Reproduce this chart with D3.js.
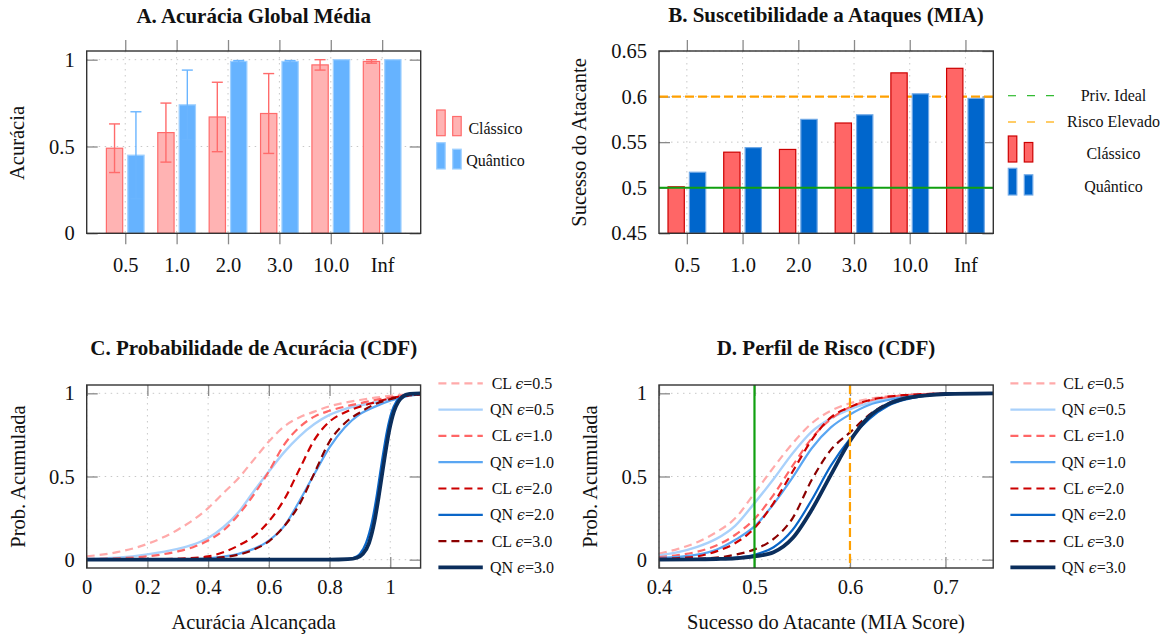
<!DOCTYPE html>
<html>
<head>
<meta charset="utf-8">
<script src="https://cdn.jsdelivr.net/npm/d3@7"></script>
<style>
body { margin: 0; background: #fff; }
text { font-family: "Liberation Serif", "DejaVu Serif", serif; fill: #111; }
</style>
</head>
<body>
<svg id="fig" width="1168" height="636"></svg>
<script>
//Categories
var epsLabels = ["0.5", "1.0", "2.0", "3.0", "10.0", "Inf"];

//A. accuracy
var accClassico = [0.49, 0.58, 0.67, 0.69, 0.97, 0.99];
var accClassicoErr = [0.14, 0.17, 0.20, 0.23, 0.03, 0.01];
var accQuantico = [0.45, 0.74, 0.99, 0.99, 1.0, 1.0];
var accQuanticoErr = [0.25, 0.20, 0.005, 0.005, 0, 0];

//B. MIA
var miaClassico = [0.501, 0.539, 0.542, 0.571, 0.626, 0.631];
var miaQuantico = [0.517, 0.544, 0.575, 0.580, 0.603, 0.598];
var privIdeal = 0.5;
var riscoElevado = 0.6;

//Ticks
var ticksAy = [0, 0.5, 1];
var ticksBy = [0.45, 0.5, 0.55, 0.6, 0.65];
var ticksCx = [0, 0.2, 0.4, 0.6, 0.8, 1];
var ticksCy = [0, 0.5, 1];
var ticksDx = [0.4, 0.5, 0.6, 0.7];

//C. CDF accuracy
var cdfAccCL05 = [[0,0.02],[0.1,0.045],[0.2,0.095],[0.3,0.18],[0.4,0.31],[0.45,0.40],[0.5,0.49],[0.55,0.60],[0.6,0.71],[0.65,0.80],[0.7,0.855],[0.75,0.89],[0.8,0.922],[0.85,0.943],[0.9,0.96],[0.95,0.974],[1.0,0.985],[1.05,0.992],[1.1,0.996]];
var cdfAccQN05 = [[0,0.004],[0.1,0.012],[0.2,0.032],[0.3,0.065],[0.35,0.09],[0.4,0.13],[0.45,0.195],[0.5,0.285],[0.55,0.41],[0.6,0.53],[0.65,0.645],[0.7,0.74],[0.75,0.815],[0.8,0.87],[0.85,0.905],[0.9,0.928],[0.95,0.945],[1.0,0.965],[1.05,0.985],[1.1,0.995]];
var cdfAccCL10 = [[0,0.004],[0.1,0.008],[0.2,0.02],[0.3,0.05],[0.35,0.075],[0.4,0.115],[0.45,0.175],[0.5,0.27],[0.55,0.39],[0.6,0.53],[0.65,0.69],[0.7,0.795],[0.75,0.86],[0.8,0.895],[0.85,0.92],[0.9,0.94],[0.95,0.96],[1.0,0.975],[1.05,0.988],[1.1,0.995]];
var cdfAccQN10 = [[0,0],[0.3,0.002],[0.4,0.008],[0.45,0.018],[0.5,0.035],[0.55,0.065],[0.6,0.115],[0.65,0.2],[0.7,0.35],[0.75,0.515],[0.8,0.675],[0.85,0.795],[0.9,0.875],[0.95,0.92],[1.0,0.955],[1.05,0.98],[1.1,0.993]];
var cdfAccCL20 = [[0,0],[0.2,0.002],[0.3,0.006],[0.4,0.02],[0.45,0.045],[0.5,0.085],[0.55,0.14],[0.6,0.23],[0.65,0.36],[0.7,0.54],[0.75,0.72],[0.8,0.83],[0.85,0.885],[0.9,0.92],[0.95,0.946],[1.0,0.97],[1.05,0.985],[1.1,0.993]];
var cdfAccQN20 = [[0,0],[0.8,0],[0.85,0.003],[0.88,0.012],[0.9,0.035],[0.92,0.1],[0.94,0.23],[0.955,0.38],[0.965,0.5],[0.975,0.62],[0.99,0.78],[1.005,0.89],[1.02,0.95],[1.04,0.985],[1.06,0.997],[1.1,1.0]];
var cdfAccCL30 = [[0,0],[0.3,0.002],[0.4,0.008],[0.45,0.015],[0.5,0.03],[0.55,0.06],[0.6,0.11],[0.65,0.2],[0.7,0.33],[0.75,0.52],[0.8,0.71],[0.85,0.82],[0.9,0.885],[0.95,0.935],[1.0,0.965],[1.05,0.985],[1.1,0.993]];
var cdfAccQN30 = [[0,0],[0.8,0],[0.86,0.003],[0.89,0.012],[0.91,0.035],[0.93,0.1],[0.948,0.23],[0.962,0.38],[0.972,0.5],[0.982,0.62],[0.997,0.78],[1.012,0.89],[1.027,0.95],[1.045,0.985],[1.065,0.997],[1.1,1.0]];

//D. CDF MIA score
var cdfMiaCL05 = [[0.4,0.036],[0.42,0.065],[0.44,0.105],[0.46,0.165],[0.48,0.25],[0.5,0.40],[0.52,0.555],[0.54,0.70],[0.56,0.82],[0.58,0.895],[0.6,0.94],[0.62,0.967],[0.64,0.982],[0.66,0.99],[0.68,0.996],[0.7,0.999],[0.75,1.0]];
var cdfMiaQN05 = [[0.4,0.026],[0.42,0.045],[0.44,0.077],[0.46,0.125],[0.48,0.205],[0.5,0.34],[0.52,0.485],[0.54,0.64],[0.56,0.77],[0.58,0.85],[0.6,0.904],[0.62,0.942],[0.64,0.97],[0.66,0.987],[0.68,0.995],[0.7,0.999],[0.75,1.0]];
var cdfMiaCL10 = [[0.4,0.016],[0.42,0.028],[0.44,0.048],[0.46,0.085],[0.48,0.15],[0.5,0.245],[0.52,0.39],[0.54,0.565],[0.56,0.73],[0.58,0.845],[0.6,0.918],[0.62,0.955],[0.64,0.978],[0.66,0.99],[0.68,0.996],[0.7,0.999],[0.75,1.0]];
var cdfMiaQN10 = [[0.4,0.01],[0.42,0.017],[0.44,0.03],[0.46,0.06],[0.48,0.12],[0.5,0.20],[0.52,0.335],[0.54,0.495],[0.56,0.67],[0.58,0.795],[0.6,0.873],[0.62,0.93],[0.64,0.96],[0.66,0.98],[0.68,0.99],[0.7,0.996],[0.75,1.0]];
var cdfMiaCL20 = [[0.4,0.006],[0.42,0.01],[0.44,0.02],[0.46,0.05],[0.48,0.1],[0.5,0.19],[0.52,0.34],[0.54,0.53],[0.56,0.72],[0.58,0.855],[0.6,0.918],[0.62,0.958],[0.64,0.98],[0.66,0.99],[0.68,0.996],[0.7,0.999],[0.75,1.0]];
var cdfMiaQN20 = [[0.4,0.002],[0.44,0.004],[0.46,0.007],[0.48,0.013],[0.5,0.03],[0.52,0.075],[0.54,0.18],[0.56,0.36],[0.58,0.565],[0.6,0.725],[0.62,0.845],[0.64,0.925],[0.66,0.965],[0.68,0.986],[0.7,0.995],[0.75,1.0]];
var cdfMiaCL30 = [[0.4,0.003],[0.44,0.006],[0.46,0.012],[0.48,0.03],[0.5,0.062],[0.52,0.125],[0.54,0.25],[0.56,0.48],[0.58,0.66],[0.6,0.765],[0.62,0.87],[0.64,0.94],[0.66,0.975],[0.68,0.99],[0.7,0.997],[0.75,1.0]];
var cdfMiaQN30 = [[0.4,0.0],[0.44,0.002],[0.46,0.004],[0.48,0.008],[0.5,0.02],[0.52,0.045],[0.54,0.13],[0.56,0.3],[0.58,0.51],[0.6,0.713],[0.62,0.86],[0.64,0.935],[0.66,0.972],[0.68,0.988],[0.7,0.996],[0.75,1.0]];

//Series names
var cdfPrefix = ["CL", "QN", "CL", "QN", "CL", "QN", "CL", "QN"];
var cdfEps = ["0.5", "0.5", "1.0", "1.0", "2.0", "2.0", "3.0", "3.0"];

//Styles
var cdfStyles = [
    { color: "#ffaaaa", width: 2.2, dash: "8,5" },
    { color: "#a9d1fb", width: 2.4, dash: null },
    { color: "#ff6666", width: 2.2, dash: "8,5" },
    { color: "#5aa6f2", width: 2.2, dash: null },
    { color: "#cc0000", width: 2.2, dash: "8,5" },
    { color: "#0a66c8", width: 2.2, dash: null },
    { color: "#8b0000", width: 2.2, dash: "8,5" },
    { color: "#0b2e5c", width: 3.8, dash: null }
];

var svg = d3.select("#fig");
var tickFont = "20.5px";
var labelFont = "20.5px";
var legendFont = "16px";

//Frame: grid, ticks, box, tick labels
function frame(box, x, y, xTicks, yTicks, xOutside, xFormat) {
    var g = svg.append("g");
    var grid = g.append("g")
                .attr("stroke", "#c8c8c8")
                .attr("stroke-width", 1)
                .attr("stroke-dasharray", "1.5,4.5");
    xTicks.forEach(function(t){
        grid.append("line").attr("x1", x(t)).attr("x2", x(t)).attr("y1", box.y0).attr("y2", box.y1);
    });
    yTicks.forEach(function(t){
        grid.append("line").attr("x1", box.x0).attr("x2", box.x1).attr("y1", y(t)).attr("y2", y(t));
    });

    //X-axis bottom
    var xb = g.append("g")
              .attr("transform", "translate(0," + box.y1 + ")")
              .call(d3.axisBottom(x).tickValues(xTicks).tickFormat(xFormat)
                      .tickSizeInner(xOutside ? 11 : -11).tickSizeOuter(0)
                      .tickPadding(xOutside ? 13 : 11));
    //X-axis top
    var xt = g.append("g")
              .attr("transform", "translate(0," + box.y0 + ")")
              .call(d3.axisTop(x).tickValues(xTicks).tickFormat("")
                      .tickSizeInner(xOutside ? 11 : -11).tickSizeOuter(0));
    //Y-axis left
    var yl = g.append("g")
              .attr("transform", "translate(" + box.x0 + ",0)")
              .call(d3.axisLeft(y).tickValues(yTicks).tickFormat(function(d){ return String(d); })
                      .tickSizeInner(-11).tickSizeOuter(0).tickPadding(12));
    //Y-axis right
    var yr = g.append("g")
              .attr("transform", "translate(" + box.x1 + ",0)")
              .call(d3.axisRight(y).tickValues(yTicks).tickFormat("")
                      .tickSizeInner(-11).tickSizeOuter(0));

    [xb, xt, yl, yr].forEach(function(a){
        a.select(".domain").remove();
        a.selectAll("line").attr("stroke", "#8a8a8a").attr("stroke-width", 1.3);
        a.selectAll("text")
         .style("font-size", tickFont)
         .style("font-family", "'Liberation Serif', serif")
         .attr("fill", "#111");
    });
    return g;
}

function drawBox(box) {
    svg.append("rect")
       .attr("x", box.x0).attr("y", box.y0)
       .attr("width", box.x1 - box.x0).attr("height", box.y1 - box.y0)
       .attr("fill", "none").attr("stroke", "#333").attr("stroke-width", 1.4);
}

function title(text, cx, y) {
    svg.append("text")
       .attr("x", cx).attr("y", y)
       .attr("text-anchor", "middle")
       .style("font-size", "21px")
       .style("font-weight", "bold")
       .text(text);
}

function yTitle(text, x, cy) {
    svg.append("text")
       .attr("transform", "translate(" + x + "," + cy + ") rotate(-90)")
       .attr("text-anchor", "middle")
       .style("font-size", labelFont)
       .text(text);
}

function xTitle(text, cx, y) {
    svg.append("text")
       .attr("x", cx).attr("y", y)
       .attr("text-anchor", "middle")
       .style("font-size", labelFont)
       .text(text);
}

//Bar legend icon (two bars)
function barIcon(x, yTop, yBottom, fill, stroke) {
    svg.append("rect").attr("x", x).attr("y", yTop)
       .attr("width", 8.5).attr("height", yBottom - yTop)
       .attr("fill", fill).attr("stroke", stroke).attr("stroke-width", 1.2);
    svg.append("rect").attr("x", x + 16).attr("y", yTop + 6.5)
       .attr("width", 8.5).attr("height", yBottom - yTop - 6.5)
       .attr("fill", fill).attr("stroke", stroke).attr("stroke-width", 1.2);
}

var barW = 16.3;
var barOff = 10.7;

//---------------- A ----------------
var boxA = { x0: 86.7, x1: 420.7, y0: 51, y1: 233.3 };
var xA = d3.scalePoint().domain(epsLabels).range([boxA.x0, boxA.x1]).padding(0.75);
var yA = d3.scaleLinear().domain([0, 1.05]).range([boxA.y1, boxA.y0]);
frame(boxA, xA, yA, epsLabels, ticksAy, true, function(d){ return d; });

var gA = svg.append("g");
gA.selectAll("rect.cl").data(accClassico).enter().append("rect")
  .attr("x", function(d, i){ return xA(epsLabels[i]) - barOff - barW / 2; })
  .attr("y", function(d){ return yA(d); })
  .attr("width", barW)
  .attr("height", function(d){ return yA(0) - yA(d); })
  .attr("fill", "#ffb3b3").attr("stroke", "#ff6b6b").attr("stroke-width", 1.2);
gA.selectAll("rect.qn").data(accQuantico).enter().append("rect")
  .attr("x", function(d, i){ return xA(epsLabels[i]) + barOff - barW / 2; })
  .attr("y", function(d){ return yA(d); })
  .attr("width", barW)
  .attr("height", function(d){ return yA(0) - yA(d); })
  .attr("fill", "#66b3ff").attr("stroke", "#9fd0ff").attr("stroke-width", 1.2);

//Error bars
function errBars(vals, errs, off, color) {
    vals.forEach(function(v, i){
        if (errs[i] <= 0) return;
        var cx = xA(epsLabels[i]) + off;
        var hi = Math.min(v + errs[i], 1.0);
        var lo = v - errs[i];
        var e = gA.append("g").attr("stroke", color).attr("stroke-width", 1.4);
        e.append("line").attr("x1", cx).attr("x2", cx).attr("y1", yA(hi)).attr("y2", yA(lo));
        e.append("line").attr("x1", cx - 5.5).attr("x2", cx + 5.5).attr("y1", yA(hi)).attr("y2", yA(hi));
        e.append("line").attr("x1", cx - 5.5).attr("x2", cx + 5.5).attr("y1", yA(lo)).attr("y2", yA(lo));
    });
}
errBars(accClassico, accClassicoErr, -barOff, "#ff6b6b");
errBars(accQuantico, accQuanticoErr, barOff, "#6ab5ff");
drawBox(boxA);

title("A. Acurácia Global Média", 253.7, 23);
yTitle("Acurácia", 24, 143);

barIcon(436.7, 110, 135.7, "#ffb3b3", "#ff6b6b");
barIcon(436.7, 142.7, 169, "#66b3ff", "#9fd0ff");
svg.append("text").attr("x", 495.5).attr("y", 133.5).attr("text-anchor", "middle")
   .style("font-size", legendFont).text("Clássico");
svg.append("text").attr("x", 495.5).attr("y", 165.5).attr("text-anchor", "middle")
   .style("font-size", legendFont).text("Quântico");

//---------------- B ----------------
var boxB = { x0: 659, x1: 993.3, y0: 51, y1: 233.3 };
var xB = d3.scalePoint().domain(epsLabels).range([boxB.x0, boxB.x1]).padding(0.5);
var yB = d3.scaleLinear().domain([0.45, 0.65]).range([boxB.y1, boxB.y0]);
frame(boxB, xB, yB, epsLabels, ticksBy, true, function(d){ return d; });

var gB = svg.append("g");
gB.append("line")
  .attr("x1", boxB.x0).attr("x2", boxB.x1).attr("y1", yB(riscoElevado)).attr("y2", yB(riscoElevado))
  .attr("stroke", "#ffa000").attr("stroke-width", 2.2).attr("stroke-dasharray", "9,4");
gB.selectAll("rect.cl").data(miaClassico).enter().append("rect")
  .attr("x", function(d, i){ return xB(epsLabels[i]) - barOff - barW / 2; })
  .attr("y", function(d){ return yB(d); })
  .attr("width", barW)
  .attr("height", function(d){ return yB(0.45) - yB(d); })
  .attr("fill", "#ff6666").attr("stroke", "#cc0000").attr("stroke-width", 1.2);
gB.selectAll("rect.qn").data(miaQuantico).enter().append("rect")
  .attr("x", function(d, i){ return xB(epsLabels[i]) + barOff - barW / 2; })
  .attr("y", function(d){ return yB(d); })
  .attr("width", barW)
  .attr("height", function(d){ return yB(0.45) - yB(d); })
  .attr("fill", "#0066cc").attr("stroke", "#6fa8e6").attr("stroke-width", 1.2);
gB.append("line")
  .attr("x1", boxB.x0).attr("x2", boxB.x1).attr("y1", yB(privIdeal)).attr("y2", yB(privIdeal))
  .attr("stroke", "#10a010").attr("stroke-width", 2.2);
drawBox(boxB);

title("B. Suscetibilidade a Ataques (MIA)", 826, 22);
yTitle("Sucesso do Atacante", 586, 142.5);

svg.append("line").attr("x1", 1008).attr("x2", 1062).attr("y1", 95.7).attr("y2", 95.7)
   .attr("stroke", "#33bb33").attr("stroke-width", 1.2).attr("stroke-dasharray", "8,11");
svg.append("line").attr("x1", 1008).attr("x2", 1062).attr("y1", 122).attr("y2", 122)
   .attr("stroke", "#ffcc66").attr("stroke-width", 2).attr("stroke-dasharray", "8,11");
barIcon(1008.3, 136, 162, "#ff6666", "#cc0000");
barIcon(1008.3, 168.3, 195, "#0066cc", "#6fa8e6");
[["Priv. Ideal", 101], ["Risco Elevado", 127], ["Clássico", 159], ["Quântico", 192]].forEach(function(l){
    svg.append("text").attr("x", 1113.5).attr("y", l[1]).attr("text-anchor", "middle")
       .style("font-size", legendFont).text(l[0]);
});

//---------------- C & D ----------------
function cdfPanel(box, xDomain, xTicks, series, clipId) {
    var x = d3.scaleLinear().domain(xDomain).range([box.x0, box.x1]);
    var y = d3.scaleLinear().domain([-0.05, 1.05]).range([box.y1, box.y0]);
    frame(box, x, y, xTicks, ticksCy, false, function(d){ return String(d); });

    svg.append("clipPath").attr("id", clipId).append("rect")
       .attr("x", box.x0).attr("y", box.y0)
       .attr("width", box.x1 - box.x0).attr("height", box.y1 - box.y0);

    var line = d3.line()
                 .x(function(d){ return x(d[0]); })
                 .y(function(d){ return y(d[1]); })
                 .curve(d3.curveMonotoneX);

    var g = svg.append("g").attr("clip-path", "url(#" + clipId + ")");
    series.forEach(function(s, i){
        var st = cdfStyles[i];
        g.append("path")
         .attr("d", line(s))
         .attr("fill", "none")
         .attr("stroke", st.color)
         .attr("stroke-width", st.width)
         .attr("stroke-dasharray", st.dash);
    });
    return { x: x, y: y, g: g };
}

function cdfLegend(lx0, lx1, tx) {
    cdfPrefix.forEach(function(p, i){
        var cy = 383.3 + 26.3 * i;
        var st = cdfStyles[i];
        svg.append("line").attr("x1", lx0).attr("x2", lx1).attr("y1", cy).attr("y2", cy)
           .attr("stroke", st.color).attr("stroke-width", st.width)
           .attr("stroke-dasharray", st.dash);
        var t = svg.append("text").attr("x", tx).attr("y", cy + 5.5)
                   .attr("text-anchor", "middle").style("font-size", legendFont);
        t.append("tspan").text(p + " ");
        t.append("tspan").style("font-style", "italic").style("font-family", "'DejaVu Serif', serif")
         .style("font-size", "14px").text("ϵ");
        t.append("tspan").text("=" + cdfEps[i]);
    });
}

var boxC = { x0: 86.7, x1: 420.6, y0: 385, y1: 568 };
var pC = cdfPanel(boxC, [0, 1.1], ticksCx,
    [cdfAccCL05, cdfAccQN05, cdfAccCL10, cdfAccQN10, cdfAccCL20, cdfAccQN20, cdfAccCL30, cdfAccQN30], "clipC");
drawBox(boxC);
title("C. Probabilidade de Acurácia (CDF)", 253.7, 354.5);
yTitle("Prob. Acumulada", 25, 476.5);
xTitle("Acurácia Alcançada", 253.7, 629);
cdfLegend(438.4, 482.8, 522);

var boxD = { x0: 659, x1: 993.2, y0: 385, y1: 568 };
var pD = cdfPanel(boxD, [0.4, 0.75], ticksDx,
    [cdfMiaCL05, cdfMiaQN05, cdfMiaCL10, cdfMiaQN10, cdfMiaCL20, cdfMiaQN20, cdfMiaCL30, cdfMiaQN30], "clipD");
pD.g.append("line")
    .attr("x1", pD.x(privIdeal)).attr("x2", pD.x(privIdeal)).attr("y1", boxD.y0).attr("y2", boxD.y1)
    .attr("stroke", "#10a010").attr("stroke-width", 2.2);
pD.g.append("line")
    .attr("x1", pD.x(riscoElevado)).attr("x2", pD.x(riscoElevado)).attr("y1", boxD.y0).attr("y2", boxD.y1)
    .attr("stroke", "#ffa000").attr("stroke-width", 2.2).attr("stroke-dasharray", "9,4");
drawBox(boxD);
title("D. Perfil de Risco (CDF)", 826, 354.5);
yTitle("Prob. Acumulada", 597, 476.5);
xTitle("Sucesso do Atacante (MIA Score)", 826, 629);
cdfLegend(1010.4, 1055.4, 1093.7);
</script>
</body>
</html>
